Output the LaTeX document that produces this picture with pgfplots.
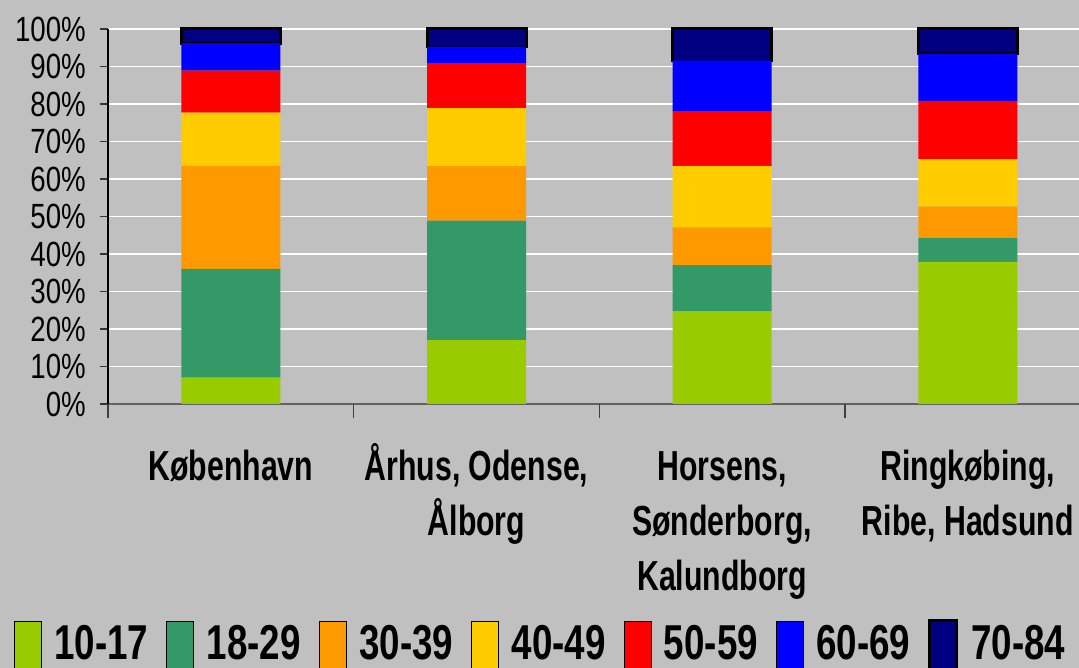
\documentclass[border=0pt]{standalone}
\usepackage{fontspec}
\setmainfont{Liberation Sans}
\newfontfamily\ytfont[FakeStretch=0.79]{Liberation Sans}
\newfontfamily\bnfont[FakeStretch=0.72]{Liberation Sans Bold}
\newfontfamily\lgfont[FakeStretch=0.75]{Liberation Sans Bold}
\usepackage{pgfplots}
\pgfplotsset{compat=1.18}
\usepackage{pgfplotstable}
\definecolor{bgc}{HTML}{C0C0C0}
\definecolor{cA}{HTML}{99CC00}
\definecolor{cB}{HTML}{339966}
\definecolor{cC}{HTML}{FF9900}
\definecolor{cD}{HTML}{FFCC00}
\definecolor{cE}{HTML}{FF0000}
\definecolor{cF}{HTML}{0000FF}
\definecolor{cG}{HTML}{000080}
\pgfplotstableread{
x a b c d e f g
0 7 29 27.5 14.2 11.2 7.3 3.8
1 17 31.9 14.5 15.5 12 4.4 4.7
2 24.7 12.3 10.1 16.3 14.7 13.5 8.4
3 37.9 6.3 8.4 12.7 15.5 12.6 6.6
}\data
\begin{document}
\begin{tikzpicture}
\useasboundingbox (0,0) rectangle (1079pt,668pt);
\fill[bgc] (0,0) rectangle (1079pt,668pt);
\begin{axis}[
  at={(108pt,264pt)}, anchor=south west,
  scale only axis, width=971pt, height=375pt,
  xmin=-0.5, xmax=3.4525, ymin=0, ymax=100,
  ybar stacked, bar width=99pt, bar shift=0pt,
  axis x line*=bottom, axis y line*=left,
  x axis line style={draw=black!62, line width=2pt},
  y axis line style={draw=black, line width=1.5pt},
  tick align=outside, major tick length=8pt,
  ytick={0,10,...,100},
  ytick style={draw=black!80, line width=1.5pt},
  /pgf/number format/assume math mode=true,
  yticklabel={\pgfmathprintnumber{\tick}\%},
  yticklabel style={font=\ytfont\fontsize{35}{40}\selectfont, inner sep=0pt, anchor=east, xshift=-14pt},
  ymajorgrids, grid style={white, line width=1.2pt},
  xtick={0,1,2,3},
  xtick style={draw=none},
  xticklabels={{\rule{0pt}{41pt}København},{\rule{0pt}{41pt}Århus, Odense,\\Ålborg},{\rule{0pt}{41pt}Horsens,\\Sønderborg,\\Kalundborg},{\rule{0pt}{41pt}Ringkøbing,\\Ribe, Hadsund}},
  xticklabel style={font=\bnfont\fontsize{42}{55}\selectfont, align=center, anchor=north, inner sep=0pt, yshift=-27pt},
  extra x ticks={-0.5,0.5,1.5,2.5},
  extra x tick labels={},
  extra x tick style={major tick length=14pt, xtick style={draw=black!75, line width=1.5pt}},
  legend columns=7,
  legend style={at={(-0.0968,-0.6439)}, anchor=west, draw=none, fill=none, inner sep=0pt, outer sep=0pt,
    font=\lgfont\fontsize{49}{56}\selectfont,
    nodes={inner sep=0pt},
    /tikz/every odd column/.append style={column sep=13pt},
    /tikz/every even column/.append style={column sep=18pt}},
  legend image code/.code={\draw[#1] (0pt,-27pt) rectangle (27pt,22pt);},
  clip=false,
]
\addplot[fill=cA, draw=none] table[x=x,y=a]{\data};
\addplot[fill=cB, draw=none] table[x=x,y=b]{\data};
\addplot[fill=cC, draw=none] table[x=x,y=c]{\data};
\addplot[fill=cD, draw=none] table[x=x,y=d]{\data};
\addplot[fill=cE, draw=none] table[x=x,y=e]{\data};
\addplot[fill=cF, draw=none] table[x=x,y=f]{\data};
\addplot[fill=cG, draw=black, line width=3pt] table[x=x,y=g]{\data};
\legend{10-17,18-29,30-39,40-49,50-59,60-69,70-84}
\end{axis}
\end{tikzpicture}
\end{document}
